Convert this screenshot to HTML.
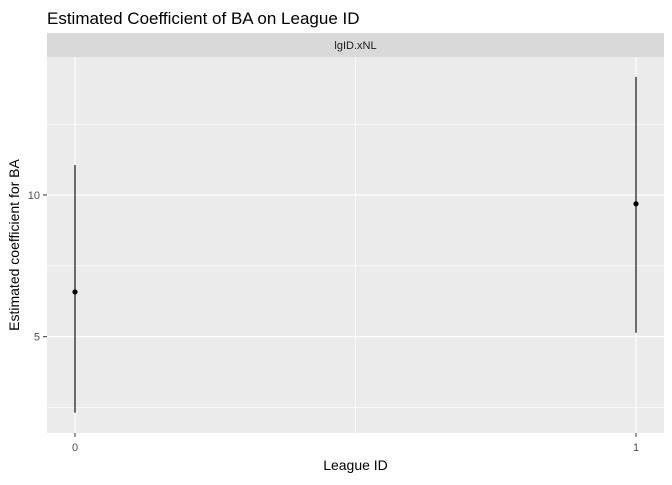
<!DOCTYPE html>
<html><head><meta charset="utf-8"><style>
body{margin:0;background:#fff;}
svg text{font-family:"Liberation Sans",Arial,sans-serif;}
</style></head><body>
<svg width="672" height="480">
<text x="47" y="24" font-size="17" fill="#000">Estimated Coefficient of BA on League ID</text>
<rect x="47" y="33" width="617" height="24" fill="#d9d9d9"/>
<text x="355.5" y="49" font-size="11" fill="#1a1a1a" text-anchor="middle">lgID.xNL</text>
<rect x="47" y="57" width="617" height="376" fill="#ebebeb"/>
<g id="grid"></g>
<g id="marks"></g>
<g id="axes"></g>
<text x="355.5" y="470" font-size="14" text-anchor="middle" fill="#000">League ID</text>
<text transform="translate(19,245) rotate(-90)" font-size="14" text-anchor="middle" fill="#000">Estimated coefficient for BA</text>
</svg>
<script>
const categories=["0","1"];
const estimates=[6.58,9.69];
const lowers=[2.32,5.14];
const uppers=[11.06,14.17];
const yTicks=[5,10];
const yMinor=[2.5,7.5,12.5];
const NS="http://www.w3.org/2000/svg";
function yS(v){return 336.7-(v-5)*28.34;}
function xS(i){return 75+i*561;}
function mk(t,a,p){const e=document.createElementNS(NS,t);for(const k in a)e.setAttribute(k,a[k]);p.appendChild(e);return e;}
const g=document.getElementById('grid'),m=document.getElementById('marks'),ax=document.getElementById('axes');
yMinor.forEach(v=>{const l=mk('line',{x1:47,x2:664,y1:yS(v),y2:yS(v),stroke:'#fff','stroke-width':0.6},g);

});
const mx=mk('line',{x1:(xS(0)+xS(1))/2,x2:(xS(0)+xS(1))/2,y1:57,y2:433,stroke:'#fff','stroke-width':0.6},g);


yTicks.forEach(v=>{const l=mk('line',{x1:47,x2:664,y1:yS(v),y2:yS(v),stroke:'#fff','stroke-width':1.2},g);


const t=mk('line',{x1:43,x2:47,y1:yS(v),y2:yS(v),stroke:'#333'},ax);


const tx=mk('text',{x:40,y:yS(v)+4,'font-size':11,'text-anchor':'end',fill:'#4d4d4d'},ax);tx.textContent=v;

});
categories.forEach((c,i)=>{const x=xS(i);
const l=mk('line',{x1:x,x2:x,y1:57,y2:433,stroke:'#fff','stroke-width':1.2},g);


const t=mk('line',{x1:x,x2:x,y1:433,y2:437,stroke:'#333'},ax);


const tx=mk('text',{x:x,y:451,'font-size':11,'text-anchor':'middle',fill:'#4d4d4d'},ax);tx.textContent=c;


const e=mk('line',{x1:x,x2:x,y1:yS(uppers[i]),y2:yS(lowers[i]),stroke:'#000','stroke-width':1.1},m);


const p=mk('circle',{cx:x,cy:yS(estimates[i]),r:2.6,fill:'#000'},m);

});
</script>
</body></html>
